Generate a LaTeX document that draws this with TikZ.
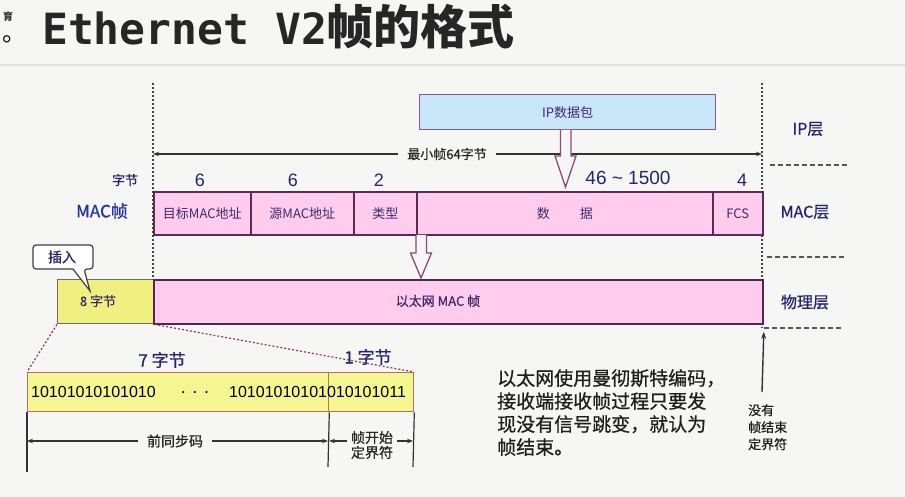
\documentclass[tikz,border=0pt]{standalone}
\usepackage{fontspec}
\setmainfont{Liberation Sans}
\newfontfamily\cjk{Noto Sans CJK SC}
\newfontfamily\cjkm{Noto Sans CJK SC}[FakeBold=0.7]
\newfontfamily\titlemono{DejaVu Sans Mono}
\usetikzlibrary{calc,arrows.meta}
\definecolor{bg}{HTML}{F6F6F4}
\definecolor{sepgray}{HTML}{E0E0DE}
\definecolor{pinkfill}{HTML}{FFCCEE}
\definecolor{pinkborder}{HTML}{5A2A58}
\definecolor{ipfill}{HTML}{C8E6F8}
\definecolor{ipborder}{HTML}{8A5A8A}
\definecolor{yellowfill}{HTML}{F0F080}
\definecolor{yellowborder}{HTML}{6E6E5E}
\definecolor{prefill}{HTML}{F6F690}
\definecolor{preborder}{HTML}{B07068}
\definecolor{navy}{HTML}{25256E}
\definecolor{macblue}{HTML}{2233AA}
\definecolor{labeltext}{HTML}{3D2B6B}
\definecolor{hollowborder}{HTML}{8A4A7A}
\definecolor{dotcol}{HTML}{444444}
\definecolor{zoomdot}{HTML}{8B3A5A}
\definecolor{darkline}{HTML}{333333}
\tikzset{
  box/.style={draw=pinkborder, fill=pinkfill, line width=1.6, inner sep=0, anchor=north west,
    text=labeltext, font=\cjk\fontsize{13}{15}\selectfont},
  txt/.style={inner sep=0, font=\cjkm\fontsize{13}{15}\selectfont},
  num/.style={inner sep=0, text=navy, font=\fontsize{18}{20}\selectfont},
  layer/.style={inner sep=0, text=navy, font=\cjkm\fontsize{16}{18}\selectfont},
  vdots/.style={draw=dotcol, line width=1.5, dash pattern=on 1.8pt off 2.2pt},
  layerdash/.style={draw=dotcol!90, line width=1.3, dash pattern=on 5pt off 3pt},
  hollow/.style={draw=hollowborder, fill=bg, line width=1.3, line join=miter},
  dimline/.style={draw=darkline, line width=1.1, -{Stealth[length=6pt,width=4.5pt]}},
  tick/.style={draw=darkline, line width=1.2},
  zoomline/.style={draw=zoomdot, line width=1.2, dash pattern=on 2pt off 2pt},
}
\begin{document}
\begin{tikzpicture}[x=1pt,y=-1pt]
\fill[bg] (0,0) rectangle (905,497);
\useasboundingbox (0,0) rectangle (905,497);
% title area
\draw[sepgray, line width=2] (0,65) -- (905,65);
\node[inner sep=0, anchor=center, font=\cjk\fontsize{10}{10}\selectfont\bfseries, text=black!80] (frag1) at (8,17) {育};
\node[inner sep=0, anchor=base west, font=\cjk\fontsize{24}{24}\selectfont, text=black] (frag2) at (2,42) {。};
\node[inner sep=0, anchor=base west, text=black!85] (title) at (42,45)
  {\titlemono\bfseries\fontsize{43}{43}\selectfont Ethernet V2\cjk\bfseries\fontsize{47}{47}\selectfont 帧的格式};

% vertical dotted boundaries
\coordinate (ltop) at (153,83);
\coordinate (rtop) at (762,83);
\coordinate (lbot) at (153,279);
\coordinate (rbot) at (762,328);
\draw[vdots] (ltop) -- (lbot);
\draw[vdots] (rtop) -- (rbot);

% minimum frame arrow
\coordinate (minL) at (153,154);
\coordinate (minR) at (762,154);
\node[txt, fill=bg, inner xsep=9pt, inner ysep=2pt, text=black!85] (minlbl) at (447,154) {最小帧64字节};
\draw[dimline] (minlbl.west) -- (minL);
\draw[dimline] (minlbl.east) -- (minR);

% IP packet
\node[box, draw=ipborder, fill=ipfill, line width=1.4, minimum width=296, minimum height=35] (ip) at (419,94) {IP数据包};

% layer labels and dashed separators
\node[layer] (lip) at (808,129) {IP层};
\node[layer] (lmac) at (805,212) {MAC层};
\node[layer] (lphy) at (805,302) {物理层};
\coordinate (d1a) at (770,165); \coordinate (d1b) at (847,165);
\coordinate (d2a) at (767,257); \coordinate (d2b) at (845,257);
\coordinate (d3a) at (764,328); \coordinate (d3b) at (842,328);
\draw[layerdash] (d1a) -- (d1b);
\draw[layerdash] (d2a) -- (d2b);
\draw[layerdash] (d3a) -- (d3b);

% byte counts
\node[txt, text=navy] (zj) at (125,180) {字节};
\node[num] (n1) at (200,180) {6};
\node[num] (n2) at (293,180) {6};
\node[num] (n3) at (379,180) {2};
\node[num, font=\fontsize{19}{21}\selectfont] (n4) at (628,178) {46 \char`\~{} 1500};
\node[num] (n5) at (742,180) {4};
\node[inner sep=0, text=macblue, font=\cjkm\fontsize{17}{19}\selectfont] (macz) at (102,211) {MAC帧};

% MAC frame
\node[box, minimum width=97, minimum height=43] (dst) at (153,191) {目标MAC地址};
\node[box, minimum width=103, minimum height=43] (src) at (250,191) {源MAC地址};
\node[box, minimum width=63, minimum height=43] (typ) at (353,191) {类型};
\node[box, minimum width=296, minimum height=43] (dat) at (416,191) {数\hspace{2.3em}据};
\node[box, minimum width=50, minimum height=43] (fcs) at (712,191) {FCS};

% hollow arrow IP -> data
\draw[hollow] (560.5,129.8) -- (560.5,156) -- (555,156) -- (565.5,187) -- (576,156) -- (571,156) -- (571,129.8);

% physical layer
\node[box, draw=yellowborder, fill=yellowfill, line width=1.4, minimum width=96, minimum height=44] (pre8) at (57,279) {};
\node[box, line width=1.8, draw=pinkborder!90!black, minimum width=609, minimum height=44] (phy) at (153,279) {};
\node[txt, text=labeltext] (pre8t) at (98,301) {8 字节};
\node[txt, text=labeltext] (phyt) at (438,301) {以太网 MAC 帧};

% hollow arrow MAC -> physical
\draw[hollow] (416,234.8) -- (416,253) -- (410.5,253) -- (421,278) -- (431.5,253) -- (426.5,253) -- (426.5,234.8);

% callout
\draw[draw=black!75, fill=white, line width=1.2, rounded corners=3pt]
  (33,245) -- (93,245) -- (93,269) -- (84,269) [sharp corners] -- (90,291) -- (73,269) [rounded corners=3pt] -- (33,269) -- cycle;
\node[txt, text=navy, font=\cjkm\fontsize{14}{16}\selectfont] (cins) at (62,257) {插入};

% preamble detail
\node[box, draw=preborder, fill=prefill, line width=1.3, minimum width=301, minimum height=39] (pre) at (27,372) {};
\node[box, draw=preborder, fill=prefill, line width=1.3, minimum width=85, minimum height=39] (sfd) at (328,372) {};
\draw[zoomline] (pre8.south west) -- (pre.north west);
\draw[zoomline] (pre8.south east) -- (sfd.north east);
\node[num, text=navy, font=\cjkm\fontsize{17}{19}\selectfont] (b7) at (162,360) {7 字节};
\node[num, text=navy, font=\cjkm\fontsize{17}{19}\selectfont] (b1) at (368,357) {1 字节};
\node[inner sep=0, anchor=west, font=\fontsize{16}{18}\selectfont] (bitsA) at (31,392) {10101010101010};
\node[inner sep=0, font=\fontsize{18}{18}\selectfont] (bdots) at (195,393) {. . .};
\node[inner sep=0, anchor=west, font=\fontsize{16}{18}\selectfont] (bitsB) at (229,392) {10101010101010101011};

% dimension lines below preamble
\coordinate (t1) at (27,472);
\coordinate (t2) at (328,467);
\coordinate (t3) at (413,467);
\draw[tick] (pre.south west) -- (t1);
\draw[tick] (pre.south east) -- (t2);
\draw[tick] (sfd.south east) -- (t3);
\node[txt, text=black!85, font=\cjkm\fontsize{14}{16}\selectfont, inner xsep=9pt] (pq) at (175,441) {前同步码};
\draw[dimline] (pq.west) -- (27,441);
\draw[dimline] (pq.east) -- (328,441);
\node[txt, text=black!85, font=\cjkm\fontsize{14}{15}\selectfont, align=center, inner xsep=4pt] (sfdl) at (372,445) {帧开始\\定界符};
\coordinate (sfdlL) at (329,441);
\coordinate (sfdlR) at (413,441);
\draw[dimline] ($(sfdl.west)+(0,-4)$) -- (sfdlL);
\draw[dimline] ($(sfdl.east)+(0,-4)$) -- (sfdlR);

% explanation
\node[inner sep=0, anchor=north west, align=left, text=black!88, font=\cjkm\fontsize{19}{23}\selectfont] (expl) at (497,369)
  {以太网使用曼彻斯特编码，\\接收端接收帧过程只要发\\现没有信号跳变，就认为\\帧结束。};

% no end delimiter
\node[inner sep=0, anchor=north west, align=left, text=black!88, font=\cjkm\fontsize{13}{17}\selectfont] (noend) at (748,404)
  {没有\\帧结束\\定界符};
\coordinate (upstart) at (762,392);
\draw[draw=darkline, line width=1.4, -{Stealth[length=7pt,width=5pt]}] (upstart) -- ($(phy.south east)+(0,7)$);
\end{tikzpicture}
\end{document}
